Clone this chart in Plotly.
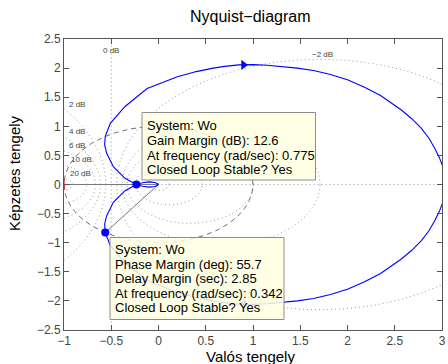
import numpy as np
import plotly.graph_objects as go

TITLE = "Nyquist\u2212diagram"
X_LABEL = "Valós tengely"
Y_LABEL = "Képzetes tengely"

# Positive-frequency branch of the Nyquist curve
nyq_re = [3.03, 3.025, 3.01, 2.97, 2.92, 2.86, 2.78, 2.68, 2.57, 2.46, 2.35, 2.18,
          2.00, 1.82, 1.64, 1.47, 1.30, 1.15, 1.00, 0.85, 0.70, 0.58, 0.40, 0.20,
          -0.12, -0.354, -0.51, -0.5635, -0.57, -0.548, -0.478, -0.354, -0.2344,
          -0.17, -0.10, -0.04, -0.008, 0.0]
nyq_im = [0.0, -0.15, -0.30, -0.47, -0.63, -0.80, -0.97, -1.13, -1.28, -1.41, -1.53, -1.67,
          -1.80, -1.89, -1.96, -2.00, -2.03, -2.05, -2.06, -2.055, -2.03, -2.00, -1.94, -1.85,
          -1.65, -1.34, -1.05, -0.826, -0.68, -0.536, -0.306, -0.106, 0.0,
          0.03, 0.045, 0.035, 0.015, 0.0]

# direction arrows on the curve
arrow_re = [0.90]
arrow_im = [2.055]

# Nyquist grid (closed-loop magnitude contours)
GRID_DB = [-20, -10, -6, -4, -2, 0, 2, 4, 6, 10, 20]
grid_label_text = ["0 dB", "2 dB", "4 dB", "6 dB", "10 dB", "20 dB", "\u22122 dB"]
grid_label_x = [-0.50, -0.86, -0.86, -0.86, -0.82, -0.83, 1.74]
grid_label_y = [2.31, 1.38, 0.91, 0.67, 0.43, 0.19, 2.24]

# stability margins
SYSTEM = "Wo"
GAIN_MARGIN_DB = 12.6
GM_FREQ = 0.775
PHASE_MARGIN_DEG = 55.7
DELAY_MARGIN = 2.85
PM_FREQ = 0.342

X_TICKS = [-1, -0.5, 0, 0.5, 1, 1.5, 2, 2.5, 3]
Y_TICKS = [-2.5, -2, -1.5, -1, -0.5, 0, 0.5, 1, 1.5, 2, 2.5]

# ---------------------------------------------------------------
FONT = "Liberation Sans, Arial, Helvetica, sans-serif"
L, R, T, B = 64, 6, 39, 34
W, H = 448, 364
PW, PH = W - L - R, H - T - B


def px2x(px):
    return -1 + (px - L) * 4.0 / PW


def py2y(py):
    return 2.5 - (py - T) * 5.0 / PH


fig = go.Figure()
GRID_STYLE = dict(color="#9a9a9a", width=1, dash="1px,3px")
theta = np.linspace(0, 2 * np.pi, 721)
for db in GRID_DB:
    if db == 0:
        gx, gy = [-0.5, -0.5], [-10, 10]
    else:
        m = 10 ** (db / 20.0)
        c = -m * m / (m * m - 1)
        r = abs(m / (m * m - 1))
        gx = c + r * np.cos(theta)
        gy = r * np.sin(theta)
    fig.add_trace(go.Scatter(x=gx, y=gy, mode="lines", line=GRID_STYLE,
                             hoverinfo="skip", showlegend=False))
# real axis
fig.add_trace(go.Scatter(x=[-10, 10], y=[0, 0], mode="lines", line=GRID_STYLE,
                         hoverinfo="skip", showlegend=False))

# unit circle
fig.add_trace(go.Scatter(x=np.cos(theta), y=np.sin(theta), mode="lines",
                         line=dict(color="#6e6e6e", width=1, dash="5px,4px"),
                         hoverinfo="skip", showlegend=False))

gm_x = -10 ** (-GAIN_MARGIN_DB / 20.0)
pm_ang = np.deg2rad(-180 + PHASE_MARGIN_DEG)
pm_x, pm_y = np.cos(pm_ang), np.sin(pm_ang)

# margin lines
fig.add_trace(go.Scatter(x=[-1, 0], y=[0, 0], mode="lines",
                         line=dict(color="#7a7a7a", width=1), showlegend=False))
fig.add_trace(go.Scatter(x=[0, pm_x], y=[0, pm_y], mode="lines",
                         line=dict(color="#7a7a7a", width=1), showlegend=False))

BLUE = "#0000ff"
fig.add_trace(go.Scatter(x=nyq_re, y=nyq_im, mode="lines",
                         line=dict(color=BLUE, width=1.1), showlegend=False))
fig.add_trace(go.Scatter(x=nyq_re, y=[-v for v in nyq_im], mode="lines",
                         line=dict(color=BLUE, width=1.1), showlegend=False))
fig.add_trace(go.Scatter(x=arrow_re, y=arrow_im, mode="markers",
                         marker=dict(symbol="triangle-right", size=9, color=BLUE),
                         showlegend=False))
fig.add_trace(go.Scatter(x=arrow_re, y=[-v for v in arrow_im], mode="markers",
                         marker=dict(symbol="triangle-left", size=9, color=BLUE),
                         showlegend=False))

# margin points
fig.add_trace(go.Scatter(x=[gm_x, pm_x], y=[0, pm_y], mode="markers",
                         marker=dict(size=8, color=BLUE), showlegend=False))
# critical point
fig.add_trace(go.Scatter(x=[-1], y=[0], mode="markers",
                         marker=dict(symbol="cross-thin", size=8,
                                     line=dict(color="red", width=1.2)),
                         showlegend=False))

annotations = []
for t, gx, gy in zip(grid_label_text, grid_label_x, grid_label_y):
    annotations.append(dict(x=gx, y=gy, xref="x", yref="y", text=t, showarrow=False,
                            font=dict(family=FONT, size=8, color="#444444")))

BOX_FILL = "rgba(255,255,226,0.86)"
shapes = []
box1 = (142, 112.5, 315.5, 180)
box1_lines = ["System: %s" % SYSTEM,
              "Gain Margin (dB): %s" % GAIN_MARGIN_DB,
              "At frequency (rad/sec): %s" % GM_FREQ,
              "Closed Loop Stable? Yes"]
box1_y = [125.5, 140.5, 155, 169.5]
box2 = (110, 237.5, 284, 319.5)
box2_lines = ["System: %s" % SYSTEM,
              "Phase Margin (deg): %s" % PHASE_MARGIN_DEG,
              "Delay Margin (sec): %s" % DELAY_MARGIN,
              "At frequency (rad/sec): %s" % PM_FREQ,
              "Closed Loop Stable? Yes"]
box2_y = [249.5, 264, 278.5, 293, 307.5]
for box, lines, ys in [(box1, box1_lines, box1_y), (box2, box2_lines, box2_y)]:
    x0, y0, x1, y1 = box
    shapes.append(dict(type="rect", xref="x", yref="y", layer="above",
                       x0=px2x(x0), x1=px2x(x1), y0=py2y(y1), y1=py2y(y0),
                       fillcolor=BOX_FILL, line=dict(color="#8c8c8c", width=1)))
    for txt, yy in zip(lines, ys):
        annotations.append(dict(x=px2x(x0 + 3), y=py2y(yy), xref="x", yref="y",
                                text=txt, showarrow=False, xanchor="left",
                                yanchor="middle",
                                font=dict(family=FONT, size=13, color="#000000")))

# title and axis labels
annotations.append(dict(x=(250 - L) / PW, y=(H - B - 16) / PH, xref="paper", yref="paper",
                        text=TITLE, showarrow=False, xanchor="center", yanchor="middle",
                        font=dict(family=FONT, size=16, color="#000000")))
annotations.append(dict(x=(250 - L) / PW, y=(H - B - 356) / PH, xref="paper", yref="paper",
                        text=X_LABEL, showarrow=False, xanchor="center", yanchor="middle",
                        font=dict(family=FONT, size=15, color="#000000")))
annotations.append(dict(x=(14 - L) / PW, y=(H - B - 173) / PH, xref="paper", yref="paper",
                        text=Y_LABEL, showarrow=False, xanchor="center", yanchor="middle",
                        textangle=-90,
                        font=dict(family=FONT, size=15, color="#000000")))

AX = dict(showgrid=False, zeroline=False, showline=True, linecolor="#555555", linewidth=1,
          mirror="ticks", ticks="inside", ticklen=5, tickcolor="#555555",
          tickfont=dict(family=FONT, size=12, color="#444444"))
fig.update_layout(
    width=W, height=H, margin=dict(l=L, r=R, t=T, b=B, autoexpand=False),
    paper_bgcolor="white", plot_bgcolor="white",
    xaxis=dict(range=[-1, 3], tickvals=X_TICKS, **AX),
    yaxis=dict(range=[-2.5, 2.5], tickvals=Y_TICKS, **AX),
    shapes=shapes, annotations=annotations, showlegend=False,
)
fig.write_html("out.html", config={"displayModeBar": False})
